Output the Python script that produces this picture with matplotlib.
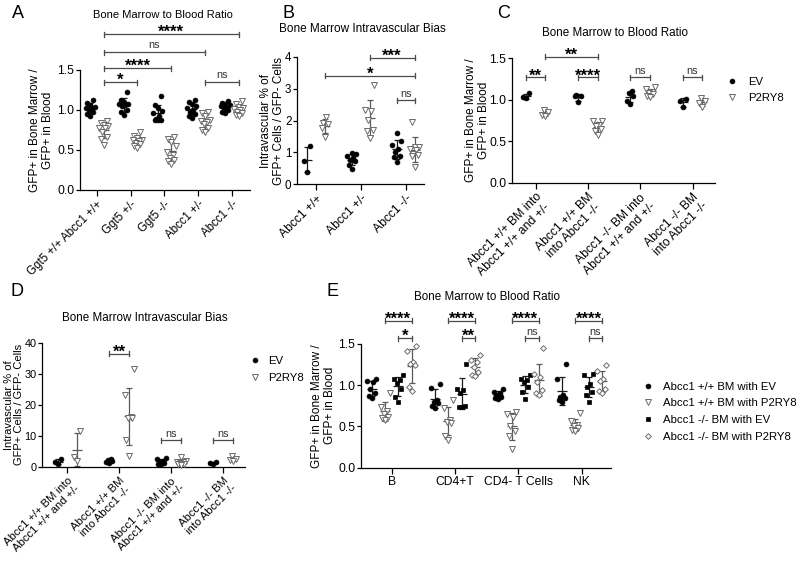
import numpy as np
import matplotlib.pyplot as plt
from matplotlib.lines import Line2D

plt.rcParams['font.family'] = ['Liberation Sans', 'DejaVu Sans']
plt.rcParams['axes.linewidth'] = 0.9

W, H = 800, 564

# ---------------- data ----------------
# A: bone marrow / blood ratio
a_cats = ["Ggt5 +/+ Abcc1 +/+", "Ggt5 +/-", "Ggt5 -/-", "Abcc1 +/-", "Abcc1 -/-"]
a_ev = [[1.12, 1.09, 1.06, 1.04, 1.03, 1.02, 1.00, 0.98, 0.95, 0.92],
        [1.23, 1.12, 1.10, 1.08, 1.07, 1.06, 1.05, 1.00, 0.97, 0.94],
        [1.17, 1.06, 1.03, 0.99, 0.96, 0.92, 0.89, 0.88, 0.88, 0.87],
        [1.12, 1.10, 1.08, 1.05, 1.03, 1.00, 0.97, 0.95, 0.92, 0.90],
        [1.11, 1.09, 1.07, 1.06, 1.05, 1.03, 1.02, 1.00, 0.98, 0.96]]
a_p2 = [[0.86, 0.84, 0.81, 0.80, 0.78, 0.77, 0.72, 0.66, 0.64, 0.56],
        [0.73, 0.68, 0.65, 0.63, 0.62, 0.61, 0.59, 0.57, 0.55, 0.53],
        [0.66, 0.64, 0.60, 0.55, 0.48, 0.44, 0.40, 0.38, 0.36, 0.33],
        [0.98, 0.96, 0.92, 0.88, 0.86, 0.85, 0.82, 0.78, 0.75, 0.72],
        [1.11, 1.07, 1.04, 1.03, 1.01, 1.00, 0.98, 0.96, 0.94, 0.92]]
a_sig = [("*", (0, 1), (1, 1), 1.35), ("****", (0, 1), (2, 1), 1.525),
         ("ns", (0, 1), (3, 1), 1.725), ("****", (0, 1), (4, 1), 1.95),
         ("ns", (3, 1), (4, 1), 1.35)]

# B: intravascular bias
b_cats = ["Abcc1 +/+", "Abcc1 +/-", "Abcc1 -/-"]
b_ev = [[1.20, 0.73, 0.40],
        [0.97, 0.95, 0.88, 0.82, 0.75, 0.72, 0.62, 0.48],
        [1.60, 1.37, 1.23, 1.11, 1.02, 0.89, 0.87, 0.69]]
b_p2 = [[2.10, 1.92, 1.88, 1.75, 1.48],
        [3.12, 2.33, 2.30, 2.02, 1.70, 1.67, 1.44],
        [1.96, 1.18, 1.16, 1.11, 1.08, 0.95, 0.92, 0.89, 0.55]]
b_sig = [("***", (1, 1), (2, 1), 3.96), ("*", (0, 1), (2, 1), 3.4),
         ("ns", (2, 0), (2, 1), 2.64)]

# C: bone marrow / blood ratio, transplants
cd_cats = ["Abcc1 +/+ BM into\nAbcc1 +/+ and +/-", "Abcc1 +/+ BM\ninto Abcc1 -/-",
           "Abcc1 -/- BM into\nAbcc1 +/+ and +/-", "Abcc1 -/- BM\ninto Abcc1 -/-"]
c_ev = [[1.08, 1.03, 1.02], [1.06, 1.05, 1.04, 0.97],
        [1.11, 1.08, 1.04, 0.99, 0.95], [1.01, 0.99, 0.91]]
c_p2 = [[0.88, 0.85, 0.82, 0.80], [0.75, 0.74, 0.70, 0.68, 0.65, 0.62, 0.58],
        [1.15, 1.13, 1.10, 1.08, 1.07, 1.05, 1.03], [1.02, 0.99, 0.96, 0.91]]
c_sig = [("**", (0, 0), (0, 1), 1.27), ("****", (1, 0), (1, 1), 1.27),
         ("**", (0, 1), (1, 1), 1.52), ("ns", (2, 0), (2, 1), 1.27),
         ("ns", (3, 0), (3, 1), 1.27)]

# D: intravascular bias, transplants
d_ev = [[2.6, 1.4, 1.0], [2.5, 2.3, 1.8, 1.5, 1.3],
        [2.8, 2.5, 2.0, 1.6, 1.2, 1.0, 0.8], [1.5, 1.2, 1.0]]
d_p2 = [[11.5, 3.0, 1.8], [31.5, 23.0, 16.0, 15.8, 15.6, 8.5, 3.3],
        [3.0, 2.0, 1.6, 1.4, 1.2, 1.0, 0.9, 0.7], [3.3, 2.5, 2.2, 1.8]]
d_sig = [("**", (1, 0), (1, 1), 36.4), ("ns", (2, 0), (2, 1), 8.6),
         ("ns", (3, 0), (3, 1), 8.6)]

# E: per cell type
e_cats = ["B", "CD4+T", "CD4- T Cells", "NK"]
e_wt_ev = [[1.07, 1.05, 1.04, 0.95, 0.90, 0.87, 0.84],
           [1.02, 0.97, 0.82, 0.80, 0.78, 0.75, 0.72],
           [0.96, 0.92, 0.90, 0.88, 0.86, 0.85, 0.83],
           [1.26, 1.08, 0.88, 0.86, 0.84, 0.82, 0.80]]
e_wt_p2 = [[0.90, 0.73, 0.69, 0.65, 0.62, 0.60, 0.58],
           [0.82, 0.72, 0.58, 0.56, 0.54, 0.38, 0.34],
           [0.68, 0.65, 0.62, 0.50, 0.45, 0.38, 0.23],
           [0.66, 0.57, 0.52, 0.50, 0.48, 0.46, 0.45]]
e_ko_ev = [[1.12, 1.08, 1.06, 1.03, 0.95, 0.86, 0.80],
           [1.26, 0.96, 0.94, 0.90, 0.75, 0.74, 0.73],
           [1.12, 1.08, 1.06, 1.04, 0.98, 0.92, 0.83],
           [1.14, 1.12, 1.02, 0.98, 0.92, 0.88, 0.80]]
e_ko_p2 = [[1.48, 1.42, 1.28, 1.26, 1.24, 0.98, 0.93],
           [1.37, 1.31, 1.28, 1.22, 1.16, 1.12, 1.11],
           [1.45, 1.14, 1.10, 1.04, 0.94, 0.90, 0.88],
           [1.25, 1.17, 1.08, 1.05, 0.96, 0.93, 0.91]]
e_pair_labels = ["*", "**", "ns", "ns"]
e_legend = ["Abcc1 +/+ BM with EV", "Abcc1 +/+ BM with P2RY8",
            "Abcc1 -/- BM with EV", "Abcc1 -/- BM with P2RY8"]

# ---------------- styles ----------------
GREY = "#6a6a6a"
S_EV = dict(marker="o", ms=3.5, mfc="black", mec="black", mew=0.5, ec="#1a1a1a")
S_P2 = dict(marker="v", ms=3.8, mfc="white", mec=GREY, mew=0.7, ec="#5a5a5a")
S_KOEV = dict(marker="s", ms=3.3, mfc="black", mec="black", mew=0.5, ec="#1a1a1a")
S_KOP2 = dict(marker="D", ms=2.9, mfc="white", mec=GREY, mew=0.7, ec="#5a5a5a")

fig = plt.figure(figsize=(8, 5.64), dpi=100)


def make_axes(l, r, y0, unit, ytop, xlim, spine_top, yticks, yfmt, yfs=8.8):
    t = y0 - unit * ytop
    ax = fig.add_axes([l / W, 1 - y0 / H, (r - l) / W, (y0 - t) / H])
    ax.set_xlim(xlim)
    ax.set_ylim(0, ytop)
    for s in ("top", "right"):
        ax.spines[s].set_visible(False)
    ax.spines["left"].set_bounds(0, spine_top)
    ax.set_yticks(yticks)
    ax.set_yticklabels([yfmt.format(v) for v in yticks])
    ax.tick_params(axis="y", length=3, width=0.9, labelsize=yfs, pad=1)
    ax.tick_params(axis="x", length=4, width=0.9, labelsize=8.7, pad=2)
    ax.xu = (r - l) / (xlim[1] - xlim[0])
    ax.yu = unit
    ax.px = (l, r, y0, t, spine_top, ytop)
    return ax


def ylabel(ax, text, x_right, fs=8.5):
    l, r, y0, t, spine_top, ytop = ax.px
    ax.set_ylabel(text, fontsize=fs, linespacing=1.1)
    ax.yaxis.set_label_coords((x_right - l) / (r - l), 0.5 * spine_top / ytop)


def draw_group(ax, xc, vals, st):
    vals = np.asarray(vals, dtype=float)
    order = np.argsort(vals)
    pattern = [0, -1, 1, -0.5, 0.5, -1.5, 1.5]
    offs = np.zeros(len(vals))
    for i, j in enumerate(order):
        offs[j] = pattern[i % len(pattern)] * 3.0 / ax.xu
    ax.plot(xc + offs, vals, ls="none", marker=st["marker"], ms=st["ms"],
            mfc=st["mfc"], mec=st["mec"], mew=st["mew"], zorder=3, clip_on=False)
    m, s = vals.mean(), vals.std(ddof=1)
    hm, hc = 5.0 / ax.xu, 3.0 / ax.xu
    lo = max(m - s, 0)
    kw = dict(color=st["ec"], lw=0.9, zorder=2, solid_capstyle="butt")
    ax.plot([xc - hm, xc + hm], [m, m], **kw)
    ax.plot([xc, xc], [lo, m + s], **kw)
    ax.plot([xc - hc, xc + hc], [m + s, m + s], **kw)
    if m - s > 0:
        ax.plot([xc - hc, xc + hc], [m - s, m - s], **kw)


def bracket(ax, x1, x2, y, label):
    th = 2.5 / ax.yu
    kw = dict(color="#4a4a4a", lw=0.9, clip_on=False)
    ax.plot([x1, x2], [y, y], **kw)
    ax.plot([x1, x1], [y - th, y + th], **kw)
    ax.plot([x2, x2], [y - th, y + th], **kw)
    if label == "ns":
        ax.text((x1 + x2) / 2, y + 3.5 / ax.yu, label, ha="center", va="baseline",
                fontsize=7.8, color="#333333")
    else:
        ax.text((x1 + x2) / 2, y - 3.0 / ax.yu, label, ha="center", va="baseline",
                fontsize=12, fontweight="bold", color="black")


def fill_panel(ax, groups, styles, offsets, sigs, cats, rot, xfs=8.7):
    for gi, (grp, st) in enumerate(zip(groups, styles)):
        for ci, vals in enumerate(grp):
            draw_group(ax, ci + offsets[gi], vals, st)
    for lab, (c1, g1), (c2, g2), y in sigs:
        bracket(ax, c1 + offsets[g1], c2 + offsets[g2], y, lab)
    ax.set_xticks(range(len(cats)))
    if rot:
        ax.set_xticklabels(cats, rotation=45, ha="right", rotation_mode="anchor",
                           multialignment="center", linespacing=1.1, fontsize=xfs)
    else:
        ax.set_xticklabels(cats, fontsize=xfs)


YL_RATIO = "GFP+ in Bone Marrow /\nGFP+ in Blood"
YL_BIAS = "Intravascular % of\nGFP+ Cells / GFP- Cells"
TITLE_RATIO = "Bone Marrow to Blood Ratio"
TITLE_BIAS = "Bone Marrow Intravascular Bias"

# ---- A
axA = make_axes(80, 250, 190, 80, 2.1, (-0.5, 4.53), 1.5, [0, 0.5, 1.0, 1.5], "{:.1f}")
fill_panel(axA, [a_ev, a_p2], [S_EV, S_P2], [-0.2, 0.2], a_sig, a_cats, True, 8.3)
ylabel(axA, YL_RATIO, 54)

# ---- B
axB = make_axes(297, 424, 184.3, 31.9, 4.4, (-0.42, 2.41), 4, [0, 1, 2, 3, 4], "{:d}", 8.4)
fill_panel(axB, [b_ev, b_p2], [S_EV, S_P2], [-0.2, 0.2], b_sig, b_cats, True)
ylabel(axB, YL_BIAS, 284.5)

# ---- C
axC = make_axes(512, 715, 182.7, 82.9, 1.7, (-0.45, 3.43), 1.5, [0, 0.5, 1.0, 1.5], "{:.1f}")
fill_panel(axC, [c_ev, c_p2], [S_EV, S_P2], [-0.19, 0.19], c_sig, cd_cats, True)
ylabel(axC, YL_RATIO, 490)

# ---- D
axD = make_axes(42, 245, 466.7, 3.1, 42, (-0.49, 3.42), 40, [0, 10, 20, 30, 40], "{:d}", 7.8)
fill_panel(axD, [d_ev, d_p2], [S_EV, S_P2], [-0.19, 0.19], d_sig, cd_cats, True, 8.1)
ylabel(axD, YL_BIAS, 24.5, 8.0)

# ---- E
e_sig = []
for k, lab in enumerate(e_pair_labels):
    e_sig.append(("****", (k, 1), (k, 3), 1.78))
    e_sig.append((lab, (k, 2), (k, 3), 1.57))
axE = make_axes(361, 611, 467.7, 82.5, 1.85, (-0.485, 3.46), 1.5, [0, 0.5, 1.0, 1.5], "{:.1f}")
fill_panel(axE, [e_wt_ev, e_wt_p2, e_ko_ev, e_ko_p2], [S_EV, S_P2, S_KOEV, S_KOP2],
           [-0.316, -0.105, 0.105, 0.316], e_sig, e_cats, False)
ylabel(axE, YL_RATIO, 336)

# ---- titles and panel letters
for x, y, s, fs in [(163, 15, TITLE_RATIO, 8), (362, 29, TITLE_BIAS, 8.5),
                    (615, 33, TITLE_RATIO, 8.4), (145, 318, TITLE_BIAS, 8.4),
                    (487, 297, TITLE_RATIO, 8.4)]:
    fig.text(x / W, 1 - y / H, s, ha="center", va="center", fontsize=fs)
for x, y, s in [(12, 13, "A"), (283, 13, "B"), (497, 13, "C"), (11, 292, "D"), (327, 292, "E")]:
    fig.text(x / W, 1 - y / H, s, ha="left", va="center", fontsize=13)


# ---- legends
def handle(st):
    return Line2D([], [], ls="none", marker=st["marker"], ms=st["ms"],
                  mfc=st["mfc"], mec=st["mec"], mew=st["mew"])


def legend(ax, styles, labels, x, y, pad):
    ax.legend([handle(s) for s in styles], labels, loc="center left",
              bbox_to_anchor=(x / W, 1 - y / H), bbox_transform=fig.transFigure,
              frameon=False, fontsize=8.2, handlelength=1.0, handletextpad=pad,
              borderpad=0, borderaxespad=0, labelspacing=0.6)


legend(axC, [S_EV, S_P2], ["EV", "P2RY8"], 726, 90, 0.9)
legend(axD, [S_EV, S_P2], ["EV", "P2RY8"], 249.5, 369.7, 0.6)
legend(axE, [S_EV, S_P2, S_KOEV, S_KOP2], e_legend, 642.5, 411.8, 0.8)

fig.savefig("out.png", dpi=100)
